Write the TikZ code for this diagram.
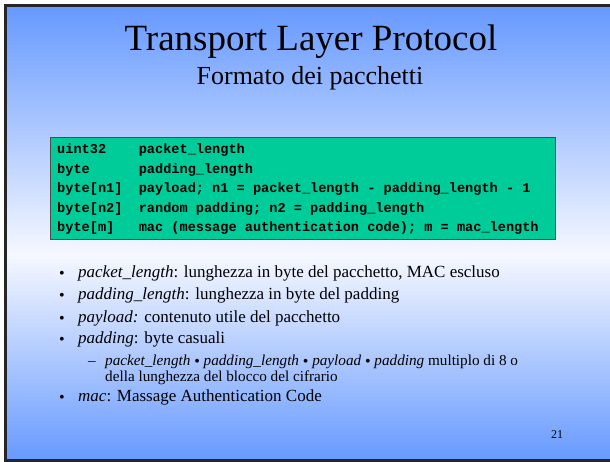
\documentclass[tikz,border=0pt]{standalone}
\usepackage{fontspec}
\setmainfont{Liberation Serif}
\setmonofont{Liberation Mono}
\definecolor{slideblue}{RGB}{102,153,255}
\definecolor{slidewhite}{RGB}{246,248,255}
\definecolor{boxgreen}{RGB}{0,204,153}
\newcommand{\pdot}{\raisebox{-1.6pt}{\fontsize{16}{10}\selectfont•}}
\tikzset{
  txt/.style={anchor=base west, inner sep=0pt, font=\fontsize{17}{20}\selectfont},
  subtxt/.style={anchor=base west, inner sep=0pt, font=\fontsize{15.2}{16}\selectfont},
  code/.style={anchor=base west, inner sep=0pt, font=\ttfamily\bfseries\fontsize{13.6}{16}\selectfont},
  dot/.style={anchor=base, inner sep=0pt, font=\fontsize{16}{16}\selectfont}
}
\begin{document}
\begin{tikzpicture}[x=1pt,y=-1pt]
    \useasboundingbox (0,0) rectangle (610,462);
    \shade[top color=slideblue, bottom color=slidewhite] (5.5,6) rectangle (612,255);%上半部分渐变
    \shade[top color=slidewhite, bottom color=slideblue] (5.5,255) rectangle (612,461);%下半部分渐变
    \draw[line width=3pt, black!85] (612,6) -- (5.5,6) -- (5.5,460.5) -- (612,460.5);%幻灯片边框
    \node[anchor=base, inner sep=0pt, font=\fontsize{37}{44}\selectfont] (title) at (311,51) {Transport Layer Protocol};
    \node[anchor=base, inner sep=0pt, font=\fontsize{26}{30}\selectfont] (subtitle) at (310,85) {Formato dei pacchetti};
    \node[draw=black!70, fill=boxgreen, anchor=north west, inner sep=0pt,
        minimum width=505pt, minimum height=102pt] (pkt) at (50,137) {};%绿色的包格式框
    \foreach \t/\d [count=\i] in {
        {uint32}/{packet\_length},
        {byte}/{padding\_length},
        {byte[n1]}/{payload; n1 = packet\_length - padding\_length - 1},
        {byte[n2]}/{random padding; n2 = padding\_length},
        {byte[m]}/{mac (message authentication code); m = mac\_length}}{
        \node[code] (type\i) at (57,{154+(\i-1)*19.5}) {\t};
        \node[code] (field\i) at (138.6,{154+(\i-1)*19.5}) {\d};
    }
    \node[dot] (b1) at (62,278) {•};
    \node[txt] (i1) at (78,277) {\textit{packet\_length}: lunghezza in byte del pacchetto, MAC escluso};
    \node[dot] (b2) at (62,300) {•};
    \node[txt] (i2) at (78,299) {\textit{padding\_length}: lunghezza in byte del padding};
    \node[dot] (b3) at (62,323) {•};
    \node[txt] (i3) at (78,322) {\textit{payload:} contenuto utile del pacchetto};
    \node[dot] (b4) at (62,344) {•};
    \node[txt] (i4) at (78,343) {\textit{padding}: byte casuali};
    \node[subtxt] (d1) at (88,365) {–};%子项
    \node[subtxt] (s1) at (105,365) {\textit{packet\_length} \pdot{} \textit{padding\_length} \pdot{} \textit{payload} \pdot{} \textit{padding} multiplo di 8 o};
    \node[subtxt] (s2) at (105,381) {della lunghezza del blocco del cifrario};
    \node[dot] (b5) at (62,402) {•};
    \node[txt] (i5) at (78,401) {\textit{mac}: Massage Authentication Code};
    \node[anchor=base, inner sep=0pt, font=\fontsize{12}{14}\selectfont] (page) at (557,438) {21};%页码
\end{tikzpicture}
\end{document}
